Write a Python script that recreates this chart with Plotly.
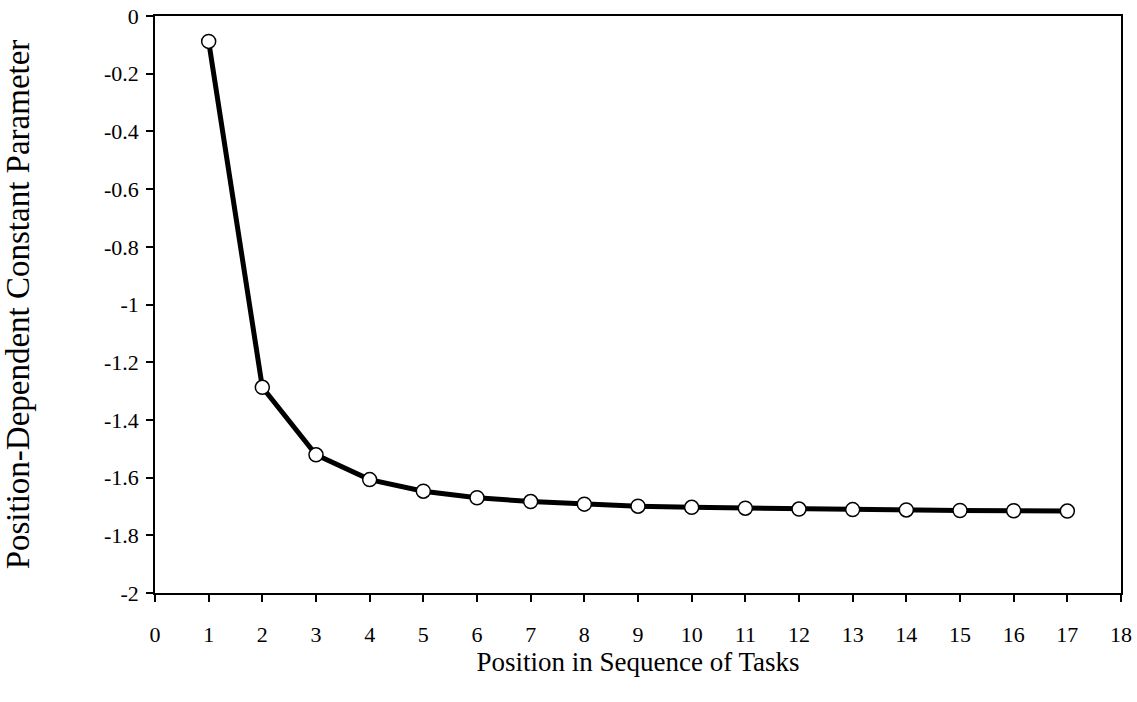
import plotly.graph_objects as go

positions = list(range(1, 18))
values = [-0.088, -1.287, -1.521, -1.607, -1.647, -1.670, -1.683, -1.692, -1.699,
          -1.703, -1.706, -1.709, -1.711, -1.712, -1.714, -1.715, -1.716]
x_ticks = list(range(0, 19))
y_ticks = [0, -0.2, -0.4, -0.6, -0.8, -1, -1.2, -1.4, -1.6, -1.8, -2]
y_tick_labels = ["0", "-0.2", "-0.4", "-0.6", "-0.8", "-1", "-1.2", "-1.4", "-1.6", "-1.8", "-2"]

font = "Liberation Serif, Times New Roman, serif"

fig = go.Figure()
fig.add_trace(go.Scatter(
    x=positions, y=values, mode="lines+markers",
    line=dict(color="black", width=5),
    marker=dict(symbol="circle", size=14, color="white", line=dict(color="black", width=1.5)),
    showlegend=False,
))

axis_common = dict(
    showgrid=False, zeroline=False, showline=True, linecolor="black", linewidth=1.5,
    mirror=True, ticks="outside", ticklen=7, tickwidth=1.5, tickcolor="black",
    tickfont=dict(family=font, size=22, color="black"), automargin=False,
)

fig.update_layout(
    width=1137, height=702,
    paper_bgcolor="white", plot_bgcolor="white",
    margin=dict(l=155, r=16, t=16, b=109),
    font=dict(family=font, color="black"),
    xaxis=dict(range=[0, 18], tickvals=x_ticks, ticklabelstandoff=14,
               title=dict(text="Position in Sequence of Tasks", font=dict(family=font, size=27), standoff=4),
               **axis_common),
    yaxis=dict(range=[-2, 0], tickvals=y_ticks, ticktext=y_tick_labels, ticklabelstandoff=3,
               title=dict(text="Position-Dependent Constant Parameter", font=dict(family=font, size=33), standoff=66),
               **axis_common),
)

fig.write_html("out.html", config={"displayModeBar": False},
               post_script="document.body.style.margin='0';document.body.style.overflow='hidden';")
